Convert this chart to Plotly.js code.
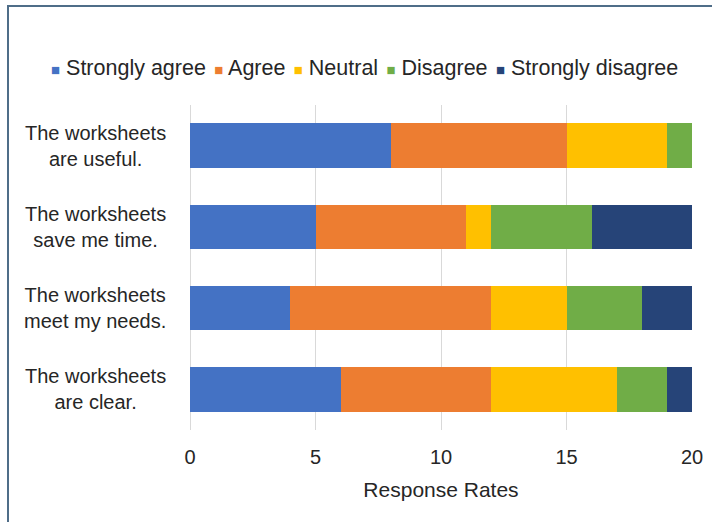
<!DOCTYPE html>
<html>
<head>
<meta charset="utf-8">
<script src="https://cdn.plot.ly/plotly-3.0.1.min.js"></script>
<style>
html,body{margin:0;padding:0;background:#fff;overflow:hidden;}
#wrap{position:relative;width:712px;height:522px;overflow:hidden;}
#chart{position:absolute;left:0;top:0;width:712px;height:522px;}
#frame{position:absolute;left:7px;top:5px;width:800px;height:700px;border:2px solid #4f6d88;pointer-events:none;z-index:10;}
</style>
</head>
<body>
<div id="wrap"><div id="chart"></div><div id="frame"></div></div>
<script>
const statements = ["The worksheets<br>are useful.", "The worksheets<br>save me time.", "The worksheets<br>meet my needs.", "The worksheets<br>are clear."];
const seriesNames = ["Strongly agree", "Agree", "Neutral", "Disagree", "Strongly disagree"];
const stronglyAgree    = [8, 5, 4, 6];
const agree            = [7, 6, 8, 6];
const neutral          = [4, 1, 3, 5];
const disagree         = [1, 4, 3, 2];
const stronglyDisagree = [0, 4, 2, 1];
const xTicks = [0, 5, 10, 15, 20];
const colors = ["#4472c4", "#ed7d31", "#ffc000", "#70ad47", "#264478"];

const values = [stronglyAgree, agree, neutral, disagree, stronglyDisagree];
const FONT = "Liberation Sans, Arial, sans-serif";
const TXT = "#262626";

const traces = values.map((v, i) => ({
  type: "bar",
  orientation: "h",
  name: seriesNames[i],
  x: v,
  y: statements,
  marker: {color: colors[i], line: {width: 0}},
  hoverinfo: "x+name"
}));

const annotations = statements.map(s => ({
  text: s, xref: "paper", yref: "y", x: -0.189, y: s,
  xanchor: "center", yanchor: "middle", align: "center", showarrow: false,
  font: {family: FONT, size: 20, color: TXT}
}));

// legend row built from the series names and colours
const legendText = seriesNames.map((n, i) =>
  "<span style=\"color:" + colors[i] + ";font-size:15px\">■</span> " + n
).join("<span style=\"font-size:30px\"> </span>");
annotations.push({
  text: legendText, xref: "paper", yref: "paper", x: 0.3486, y: 1.126,
  xanchor: "center", yanchor: "middle", align: "center", showarrow: false,
  font: {family: FONT, size: 21.5, color: TXT}
});

const layout = {
  width: 712, height: 522,
  margin: {l: 190, r: 20, t: 105, b: 92},
  barmode: "stack",
  bargap: 0.45,
  paper_bgcolor: "#ffffff",
  plot_bgcolor: "#ffffff",
  font: {family: FONT, size: 20, color: TXT},
  showlegend: false,
  xaxis: {
    range: [0, 20], tickvals: xTicks, ticktext: xTicks.map(String),
    showgrid: true, gridcolor: "#d9d9d9", gridwidth: 1,
    zeroline: true, zerolinecolor: "#d9d9d9", zerolinewidth: 1,
    showline: false, ticks: "", ticklabelstandoff: 13,
    tickfont: {family: FONT, size: 20, color: TXT},
    title: {text: "Response Rates", font: {family: FONT, size: 21, color: TXT}, standoff: 15}
  },
  yaxis: {
    categoryorder: "array", categoryarray: statements, autorange: "reversed",
    showticklabels: false, showgrid: false, zeroline: false, showline: false, ticks: ""
  },
  annotations: annotations
};

Plotly.newPlot("chart", traces, layout, {displayModeBar: false, staticPlot: true});
</script>
</body>
</html>
